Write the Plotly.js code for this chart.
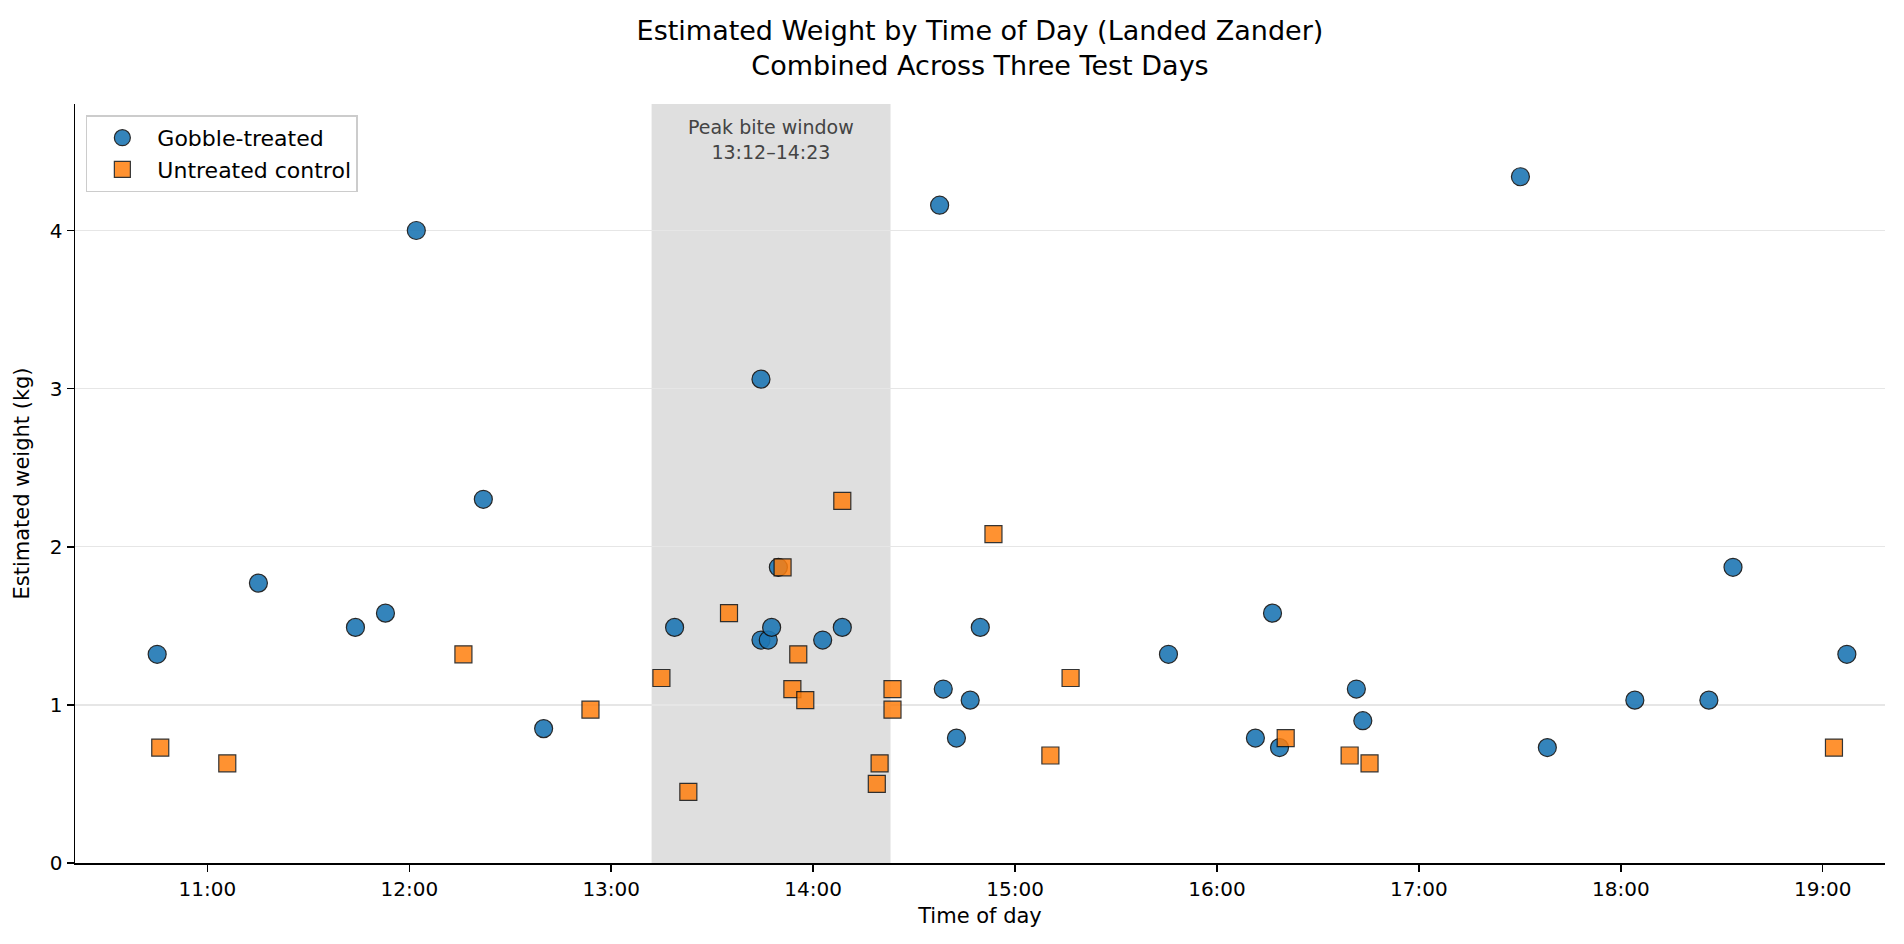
<!DOCTYPE html>
<html>
<head>
<meta charset="utf-8">
<script src="https://cdn.plot.ly/plotly-3.0.1.min.js"></script>
<style>
  html, body { margin: 0; padding: 0; background: #fff; }
  #chart { width: 1904px; height: 944px; }
</style>
</head>
<body>
<div id="chart"></div>
<script>
// catch times (time of day, all three days pooled) and estimated weights in kg
const treatedTimes = [
  "10:45:05", "11:15:10", "11:44:00", "11:52:55", "12:02:05", "12:22:00", "12:39:55",
  "13:18:50", "13:44:30", "13:44:30", "13:46:40", "13:47:40", "13:49:40", "14:02:50",
  "14:08:40", "14:37:35", "14:38:40", "14:42:35", "14:46:40", "14:49:40", "15:45:35",
  "16:11:25", "16:16:30", "16:18:35", "16:41:25", "16:43:20", "17:30:10", "17:38:10",
  "18:04:10", "18:26:10", "18:33:20", "19:07:10"
];
const treatedWeights = [
  1.32, 1.77, 1.49, 1.58, 4.00, 2.30, 0.85,
  1.49, 3.06, 1.41, 1.41, 1.49, 1.87, 1.41,
  1.49, 4.16, 1.10, 0.79, 1.03, 1.49, 1.32,
  0.79, 1.58, 0.73, 1.10, 0.90, 4.34, 0.73,
  1.03, 1.03, 1.87, 1.32
];

const controlTimes = [
  "10:46:00", "11:05:55", "12:16:05", "12:53:50", "13:14:55", "13:22:55", "13:35:00",
  "13:50:55", "13:53:50", "13:55:35", "13:57:40", "14:08:40", "14:18:55", "14:19:45",
  "14:23:35", "14:23:35", "14:53:35", "15:10:30", "15:16:30", "16:20:25", "16:39:25",
  "16:45:20", "19:03:20"
];
const controlWeights = [
  0.73, 0.63, 1.32, 0.97, 1.17, 0.45, 1.58,
  1.87, 1.10, 1.32, 1.03, 2.29, 0.50, 0.63,
  1.10, 0.97, 2.08, 0.68, 1.17, 0.79, 0.68,
  0.63, 0.73
];

const peakStart = "13:12";
const peakEnd = "14:23";

const DAY = "2024-06-01 ";
const toDate = t => DAY + t;

const FONT = "DejaVu Sans, Liberation Sans, sans-serif";

const treated = {
  type: "scatter",
  mode: "markers",
  name: "Gobble-treated",
  x: treatedTimes.map(toDate),
  y: treatedWeights,
  marker: {
    symbol: "circle",
    size: 18,
    color: "#1f77b4",
    opacity: 0.9,
    line: { color: "#111", width: 1.2 }
  }
};

const control = {
  type: "scatter",
  mode: "markers",
  name: "Untreated control",
  x: controlTimes.map(toDate),
  y: controlWeights,
  marker: {
    symbol: "square",
    size: 17,
    color: "#ff7f0e",
    opacity: 0.85,
    line: { color: "#111", width: 1.2 }
  }
};

const layout = {
  width: 1904,
  height: 944,
  margin: { l: 75, r: 19, t: 104, b: 81 },
  paper_bgcolor: "#fff",
  plot_bgcolor: "#fff",
  font: { family: FONT, size: 20, color: "#000" },
  title: {
    text: "Estimated Weight by Time of Day (Landed Zander)<br>Combined Across Three Test Days",
    font: { family: FONT, size: 27, color: "#000" },
    x: 0.5147,
    xanchor: "center",
    yref: "container",
    y: 0.958,
    yanchor: "top"
  },
  xaxis: {
    type: "date",
    range: [toDate("10:20:40"), toDate("19:18:30")],
    tickformat: "%H:%M",
    dtick: 3600000,
    tick0: toDate("11:00"),
    showgrid: false,
    zeroline: false,
    showline: true,
    linecolor: "#000",
    linewidth: 1.5,
    ticks: "outside",
    ticklen: 7,
    tickwidth: 1.5,
    tickcolor: "#000",
    tickfont: { family: FONT, size: 20, color: "#000" },
    title: { text: "Time of day", font: { family: FONT, size: 21, color: "#000" }, standoff: 9 }
  },
  yaxis: {
    range: [0, 4.8],
    dtick: 1,
    tick0: 0,
    showgrid: true,
    gridcolor: "#e6e6e6",
    gridwidth: 1.3,
    zeroline: false,
    showline: true,
    linecolor: "#000",
    linewidth: 1.5,
    ticks: "outside",
    ticklen: 7,
    tickwidth: 1.5,
    tickcolor: "#000",
    tickfont: { family: FONT, size: 20, color: "#000" },
    title: { text: "Estimated weight (kg)", font: { family: FONT, size: 21, color: "#000" }, standoff: 14 }
  },
  shapes: [{
    type: "rect",
    xref: "x",
    yref: "paper",
    x0: toDate(peakStart),
    x1: toDate(peakEnd),
    y0: 0,
    y1: 1,
    fillcolor: "rgba(128,128,128,0.25)",
    line: { width: 0 },
    layer: "below"
  }],
  annotations: [{
    xref: "x",
    yref: "paper",
    x: toDate("13:47:30"),
    y: 0.987,
    xanchor: "center",
    yanchor: "top",
    showarrow: false,
    text: "Peak bite window<br>" + peakStart + "\u2013" + peakEnd,
    font: { family: FONT, size: 19, color: "#444" }
  }],
  legend: {
    x: 0.006,
    y: 0.985,
    xanchor: "left",
    yanchor: "top",
    bgcolor: "rgba(255,255,255,0.8)",
    bordercolor: "#cccccc",
    borderwidth: 1.5,
    itemwidth: 60,
    font: { family: FONT, size: 22, color: "#000" }
  },
  showlegend: true
};

Plotly.newPlot("chart", [treated, control], layout, { displayModeBar: false, staticPlot: true });
</script>
</body>
</html>
